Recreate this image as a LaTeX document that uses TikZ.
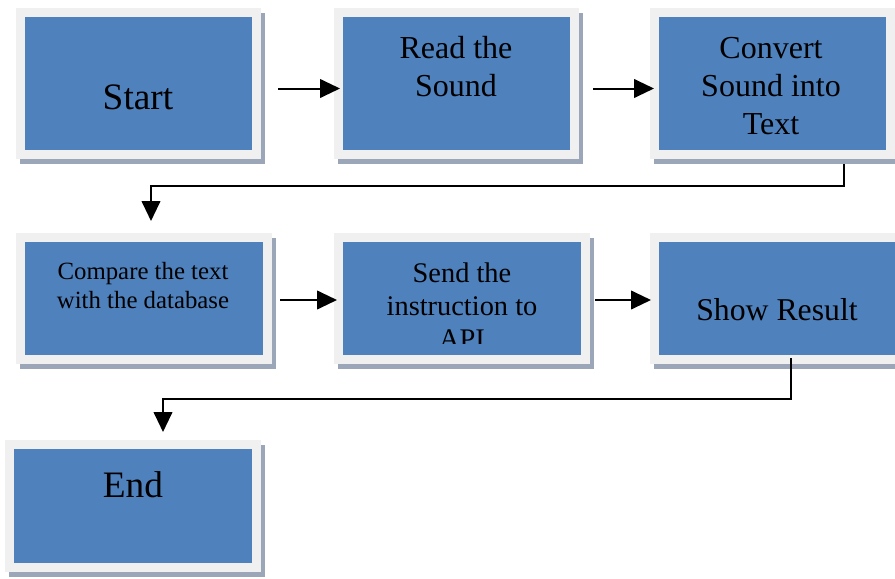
\documentclass[tikz,border=0pt]{standalone}
\usepackage{fontspec}
\setmainfont{Liberation Serif}
\usetikzlibrary{arrows.meta}

\definecolor{boxblue}{RGB}{79,129,189}
\definecolor{framegray}{RGB}{240,240,240}
\definecolor{shadowgray}{RGB}{155,167,184}

\tikzset{every picture/.style={line width=0.75pt}}
\tikzset{
	stepbox/.style={rectangle, inner sep=0pt, fill=boxblue, draw=framegray, line width=6.75pt,
		preaction={draw=shadowgray, fill=shadowgray, line width=6.75pt, transform canvas={xshift=3pt,yshift=-3.75pt}}},
	toprow/.style={stepbox, minimum width=177pt, minimum height=106.5pt},
	lowrow/.style={stepbox, minimum width=185.25pt, minimum height=91.5pt},
	lbl/.style={inner sep=0pt, align=center, text=black},
	arr/.style={line width=1.5pt, -{Triangle[length=15pt,width=14pt]}}
}

\begin{document}
\begin{tikzpicture}[x=0.75pt,y=0.75pt,yscale=-1,xscale=1]
		\path[use as bounding box] (0,0) rectangle (895,578);
		\clip (0,0) rectangle (895,578);

		%Shape: Rectangle [id:start]
		\node[toprow] (start) at (138.5,83.5) {};
		%Shape: Rectangle [id:read]
		\node[toprow] (read) at (456.5,83.5) {};
		%Shape: Rectangle [id:conv]
		\node[toprow] (conv) at (772.5,83.5) {};
		%Shape: Rectangle [id:cmp]
		\node[lowrow] (cmp) at (144,298.5) {};
		%Shape: Rectangle [id:send]
		\node[lowrow] (send) at (462,298.5) {};
		%Shape: Rectangle [id:show]
		\node[lowrow] (show) at (778,298.5) {};
		%Shape: Rectangle [id:end]
		\node[lowrow, minimum height=92.25pt] (end) at (133,506) {};

		%Straight Lines
		\draw[arr] ([shift={(17,5)}]start.east) -- ([shift={(6,5)}]read.west);
		%Straight Lines
		\draw[arr] ([shift={(14,5)}]read.east) -- ([shift={(4,5)}]conv.west);
		%Straight Lines
		\draw[arr] ([shift={(71.5,5)}]conv.south) -- ++(0,22) -| ([shift={(7,-12)}]cmp.north);
		%Straight Lines
		\draw[arr] ([shift={(8,1.5)}]cmp.east) -- ([shift={(3,1.5)}]send.west);
		%Straight Lines
		\draw[arr] ([shift={(5,1.5)}]send.east) -- ([shift={(1,1.5)}]show.west);
		%Straight Lines
		\draw[arr] ([shift={(13,-6)}]show.south) -- ++(0,41) -| ([shift={(30,-8)}]end.north);

		% Text Node
		\node[lbl, font=\fontsize{28}{33}\selectfont] (startT) at (138,97) {Start};
		% Text Node
		\node[lbl, font=\fontsize{24}{28.5}\selectfont] (readT) at (456,67) {Read the\\Sound};
		% Text Node
		\node[lbl, font=\fontsize{24}{28.5}\selectfont] (convT) at (771,86) {Convert\\Sound into\\Text};
		% Text Node
		\node[lbl, font=\fontsize{18.6}{21.75}\selectfont] (cmpT) at (143,286) {Compare the text\\with the database};
		% Text Node
		\begin{scope}
		\clip (343,242) rectangle (581,343);
		\node[lbl, font=\fontsize{21.3}{24.75}\selectfont] (sendT) at (462,306) {Send the\\instruction to\\API};
		\end{scope}
		% Text Node
		\node[lbl, font=\fontsize{23.8}{28.5}\selectfont] (showT) at (777,310) {Show Result};
		% Text Node
		\node[lbl, font=\fontsize{28}{33}\selectfont] (endT) at (133,485) {End};

\end{tikzpicture}
\end{document}
